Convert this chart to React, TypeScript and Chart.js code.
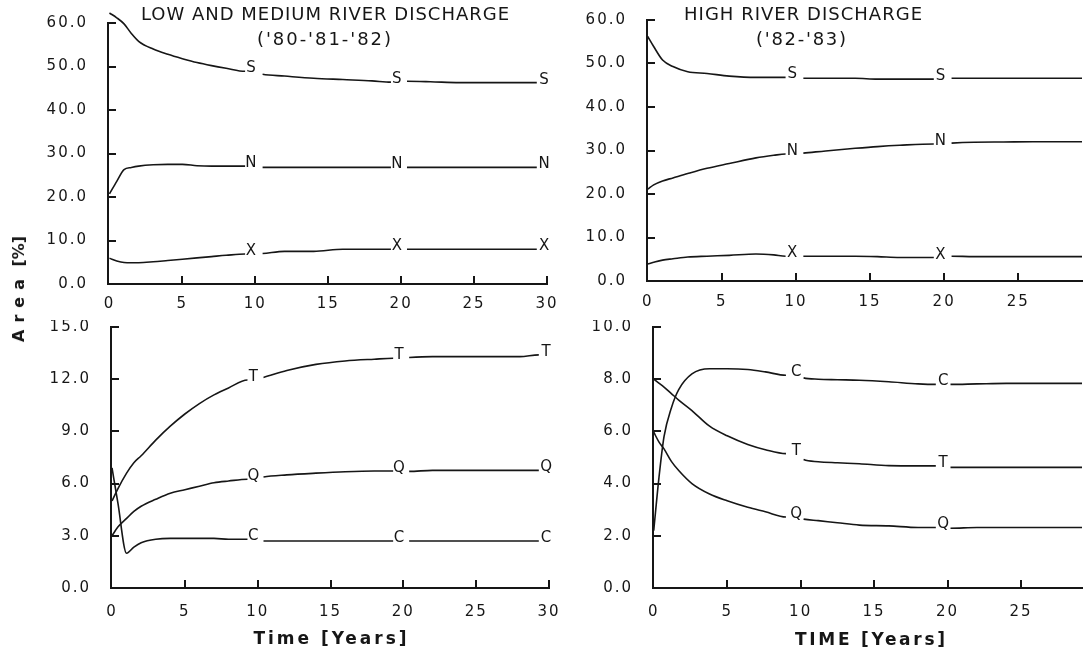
import React, { useEffect, useRef } from "react";
import { Chart, registerables } from "chart.js";

Chart.register(...registerables);

// ---------------- DATA ----------------
// Top-left: low and medium river discharge ('80-'81-'82), area [%] of S, N, X
const tlTitle = ["LOW AND MEDIUM RIVER DISCHARGE", "('80-'81-'82)"];
const tlTime = [0, 0.5, 1, 1.5, 2, 3, 4, 5, 6, 7, 8, 9.3, 9.7, 10.5, 12, 14, 16, 18, 19.3, 19.7, 20.4, 22, 24, 26, 28, 29.3, 29.8];
const tlS = [62.3, 61.2, 59.8, 57.6, 55.8, 54.0, 52.8, 51.8, 50.9, 50.2, 49.6, 48.9, 48.9, 48.2, 47.8, 47.3, 47.0, 46.7, 46.4, 46.4, 46.6, 46.5, 46.3, 46.3, 46.3, 46.3, 46.3];
const tlN = [20.7, 23.6, 26.3, 26.8, 27.1, 27.4, 27.5, 27.5, 27.2, 27.1, 27.1, 27.1, 27.1, 26.8, 26.8, 26.8, 26.8, 26.8, 26.8, 26.8, 26.8, 26.8, 26.8, 26.8, 26.8, 26.8, 26.8];
const tlX = [5.9, 5.3, 4.95, 4.9, 4.9, 5.1, 5.4, 5.7, 6.0, 6.3, 6.6, 6.9, 6.9, 7.0, 7.5, 7.5, 8.0, 8.0, 8.0, 8.0, 8.0, 8.0, 8.0, 8.0, 8.0, 8.0, 8.0];
const tlLetters = ["S", "N", "X"];
const tlLabelTimes = [9.7, 19.7, 29.8];

// Top-right: high river discharge ('82-'83)
const trTitle = ["HIGH RIVER DISCHARGE", "('82-'83)"];
const trTime = [0, 0.4, 1, 1.7, 2.7, 4, 5.5, 7.3, 8.5, 9.3, 9.75, 10.5, 12, 14, 15.5, 17, 19.3, 19.75, 20.5, 22, 24, 26, 28, 29.3];
const trS = [56.2, 53.9, 50.8, 49.3, 48.1, 47.7, 47.1, 46.8, 46.8, 46.8, 46.8, 46.6, 46.6, 46.6, 46.4, 46.4, 46.4, 46.4, 46.6, 46.6, 46.6, 46.6, 46.6, 46.6];
const trN = [21.1, 22.1, 23.0, 23.7, 24.7, 25.9, 27.0, 28.3, 28.9, 29.2, 29.2, 29.4, 29.9, 30.5, 30.9, 31.2, 31.5, 31.5, 31.7, 31.9, 31.95, 32.0, 32.0, 32.0];
const trX = [3.9, 4.3, 4.8, 5.1, 5.5, 5.7, 5.9, 6.2, 6.0, 5.7, 5.7, 5.7, 5.7, 5.7, 5.6, 5.4, 5.4, 5.4, 5.7, 5.6, 5.6, 5.6, 5.6, 5.6];
const trLetters = ["S", "N", "X"];
const trLabelTimes = [9.75, 19.75];

// Bottom-left: T, Q, C
const blTime = [0, 0.4, 1, 1.5, 2, 3, 4, 5, 6, 7, 8, 9.3, 9.7, 10.4, 12, 14, 16, 18, 19.3, 19.7, 20.4, 22, 24, 26, 28, 29.3, 29.8];
const blT = [5.0, 5.7, 6.6, 7.2, 7.6, 8.5, 9.3, 10.0, 10.6, 11.1, 11.5, 11.95, 11.95, 12.1, 12.5, 12.85, 13.05, 13.15, 13.2, 13.2, 13.25, 13.3, 13.3, 13.3, 13.3, 13.4, 13.4];
const blQ = [3.0, 3.5, 4.0, 4.4, 4.7, 5.1, 5.45, 5.65, 5.85, 6.05, 6.15, 6.25, 6.25, 6.38, 6.5, 6.6, 6.68, 6.72, 6.72, 6.72, 6.7, 6.76, 6.76, 6.76, 6.76, 6.76, 6.76];
const blC = [6.9, 4.9, 2.0, 2.35, 2.6, 2.8, 2.85, 2.85, 2.85, 2.85, 2.8, 2.8, 2.8, 2.7, 2.7, 2.7, 2.7, 2.7, 2.7, 2.7, 2.7, 2.7, 2.7, 2.7, 2.7, 2.7, 2.7];
const blLetters = ["T", "Q", "C"];
const blLabelTimes = [9.7, 19.7, 29.8];

// Bottom-right: C, T, Q
const brTime = [0, 0.35, 0.7, 1.2, 1.7, 2.6, 3.8, 5, 6.4, 7.6, 9.0, 9.7, 10.2, 11.2, 12.5, 14, 16, 18, 19.2, 19.7, 20.2, 22, 24, 26, 28, 29.15];
const brC = [2.2, 4.2, 5.8, 6.9, 7.6, 8.2, 8.4, 8.4, 8.37, 8.28, 8.15, 8.15, 8.05, 8.0, 7.98, 7.96, 7.9, 7.82, 7.8, 7.8, 7.8, 7.82, 7.84, 7.84, 7.84, 7.84];
const brT = [8.0, 7.85, 7.7, 7.45, 7.2, 6.8, 6.2, 5.83, 5.5, 5.3, 5.15, 5.15, 4.92, 4.84, 4.8, 4.76, 4.69, 4.68, 4.68, 4.68, 4.62, 4.62, 4.62, 4.62, 4.62, 4.62];
const brQ = [5.97, 5.6, 5.33, 4.85, 4.5, 4.0, 3.6, 3.34, 3.09, 2.92, 2.72, 2.72, 2.64, 2.58, 2.5, 2.41, 2.38, 2.32, 2.32, 2.32, 2.29, 2.32, 2.32, 2.32, 2.32, 2.32];
const brLetters = ["C", "T", "Q"];
const brLabelTimes = [9.7, 19.7];

// Tick values
const xTicksLeft = [0, 5, 10, 15, 20, 25, 30];
const xTicksRight = [0, 5, 10, 15, 20, 25];
const yTicksTop = [0, 10, 20, 30, 40, 50, 60];
const yTicksBL = [0, 3, 6, 9, 12, 15];
const yTicksBR = [0, 2, 4, 6, 8, 10];

// Axis titles
const xTitleLeft = "Time [Years]";
const xTitleRight = "TIME [Years]";
const yTitleWord = "Area";
const yTitleUnit = "[%]";

// ---------------- STYLE / LAYOUT ----------------
const INK = "#161616";
const FONT = "'DejaVu Sans', 'Noto Sans', sans-serif";
const TICK_LEN = 8;
const TICK_W = 2;

Chart.defaults.font.family = FONT;
Chart.defaults.font.size = 15;
Chart.defaults.color = INK;

type TextItem = { text: string; cx: number; cy: number; size: number; bold?: boolean; width: number };
type Panel = {
  time: number[];
  series: number[][];
  letters: string[];
  labelTimes: number[];
  xMin: number;
  xMax: number;
  xTicks: number[];
  yMin: number;
  yMax: number;
  yTicks: number[];
  box: { left: number; top: number; width: number; height: number };
  yAxisWidth: number;
  xAxisHeight: number;
  padTop: number;
  padRight: number;
  xLabelPad: number;
  texts: TextItem[];
};

const panels: Panel[] = [
  {
    time: tlTime, series: [tlS, tlN, tlX], letters: tlLetters, labelTimes: tlLabelTimes,
    xMin: -0.1, xMax: 30, xTicks: xTicksLeft, yMin: 0, yMax: 60, yTicks: yTicksTop,
    box: { left: 0, top: 0, width: 560, height: 320 },
    yAxisWidth: 108, xAxisHeight: 36, padTop: 23, padRight: 13, xLabelPad: 11,
    texts: [
      { text: tlTitle[0], cx: 325, cy: 15, size: 18, width: 368 },
      { text: tlTitle[1], cx: 324, cy: 40, size: 18, width: 134 },
    ],
  },
  {
    time: trTime, series: [trS, trN, trX], letters: trLetters, labelTimes: trLabelTimes,
    xMin: -0.05, xMax: 29.3, xTicks: xTicksRight, yMin: 0, yMax: 60, yTicks: yTicksTop,
    box: { left: 560, top: 0, width: 527, height: 320 },
    yAxisWidth: 87, xAxisHeight: 39, padTop: 20, padRight: 5, xLabelPad: 12,
    texts: [
      { text: trTitle[0], cx: 243, cy: 15, size: 18, width: 238 },
      { text: trTitle[1], cx: 241, cy: 40, size: 18, width: 90 },
    ],
  },
  {
    time: blTime, series: [blT, blQ, blC], letters: blLetters, labelTimes: blLabelTimes,
    xMin: -0.07, xMax: 30, xTicks: xTicksLeft, yMin: 0, yMax: 15, yTicks: yTicksBL,
    box: { left: 0, top: 320, width: 560, height: 338 },
    yAxisWidth: 111, xAxisHeight: 70, padTop: 7, padRight: 11, xLabelPad: 15,
    texts: [{ text: xTitleLeft, cx: 330, cy: 320, size: 17, bold: true, width: 153 }],
  },
  {
    time: brTime, series: [brC, brT, brQ], letters: brLetters, labelTimes: brLabelTimes,
    xMin: -0.05, xMax: 29.15, xTicks: xTicksRight, yMin: 0, yMax: 10, yTicks: yTicksBR,
    box: { left: 560, top: 320, width: 527, height: 338 },
    yAxisWidth: 93, xAxisHeight: 70, padTop: 7, padRight: 5, xLabelPad: 15,
    texts: [{ text: xTitleRight, cx: 310, cy: 321, size: 17, bold: true, width: 150 }],
  },
];

function buildConfig(p: Panel): any {
  const isLabel = (x: number) => p.labelTimes.includes(x);
  const datasets = p.series.map((vals, i) => ({
    label: p.letters[i],
    data: p.time.map((t, j) => ({ x: t, y: vals[j] })),
    borderColor: INK,
    borderWidth: 1.6,
    pointRadius: 0,
    fill: false,
    clip: false,
    cubicInterpolationMode: "monotone",
    segment: {
      borderColor: (ctx: any) =>
        isLabel(ctx.p0.parsed.x) || isLabel(ctx.p1.parsed.x) ? "rgba(0,0,0,0)" : INK,
    },
  }));

  const spacingPlugin = {
    id: "spacing",
    beforeDraw(chart: any) {
      chart.ctx.letterSpacing = "2px";
    },
  };

  const decoPlugin = {
    id: "deco",
    afterDraw(chart: any) {
      const ctx = chart.ctx as CanvasRenderingContext2D;
      const xs = chart.scales.x;
      const ys = chart.scales.y;
      const bottom = ys.getPixelForValue(p.yMin);
      const left = xs.getPixelForValue(p.xMin);

      // inward tick marks (filled rects)
      ctx.save();
      ctx.fillStyle = INK;
      for (const v of p.xTicks) {
        if (v === 0) continue;
        const px = Math.round(xs.getPixelForValue(v));
        ctx.fillRect(px - TICK_W / 2, bottom - TICK_LEN, TICK_W, TICK_LEN);
      }
      for (const v of p.yTicks) {
        if (v === 0) continue;
        const py = Math.round(ys.getPixelForValue(v));
        ctx.fillRect(left, py - TICK_W / 2, TICK_LEN, TICK_W);
      }
      ctx.restore();

      // curve letters
      ctx.save();
      (ctx as any).letterSpacing = "0px";
      ctx.fillStyle = INK;
      ctx.font = `15px ${FONT}`;
      ctx.textAlign = "center";
      ctx.textBaseline = "alphabetic";
      p.series.forEach((vals, i) => {
        p.labelTimes.forEach((t) => {
          const idx = p.time.indexOf(t);
          if (idx < 0) return;
          const px = xs.getPixelForValue(t);
          const py = ys.getPixelForValue(vals[idx]);
          ctx.fillText(p.letters[i], px, py + 1);
        });
      });
      ctx.restore();

      // titles
      p.texts.forEach((it) => {
        ctx.save();
        ctx.fillStyle = INK;
        ctx.font = `${it.bold ? "bold " : ""}${it.size}px ${FONT}`;
        (ctx as any).letterSpacing = "0px";
        const w0 = ctx.measureText(it.text).width;
        const n = Array.from(it.text).length;
        const sp = n > 1 ? (it.width - w0) / (n - 1) : 0;
        (ctx as any).letterSpacing = `${sp}px`;
        ctx.textAlign = "left";
        ctx.textBaseline = "middle";
        ctx.fillText(it.text, it.cx - it.width / 2, it.cy);
        ctx.restore();
      });
    },
  };

  const noGrid = { display: false, drawTicks: false, tickLength: 0 };

  return {
    type: "line",
    data: { datasets },
    options: {
      responsive: false,
      maintainAspectRatio: false,
      animation: false,
      devicePixelRatio: 1,
      events: [],
      layout: { padding: { top: p.padTop, right: p.padRight, left: 0, bottom: 0 } },
      plugins: {
        legend: { display: false },
        tooltip: { enabled: false },
        title: { display: false },
      },
      scales: {
        x: {
          type: "linear",
          min: p.xMin,
          max: p.xMax,
          grid: noGrid,
          border: { display: true, color: INK, width: 2 },
          ticks: {
            padding: p.xLabelPad,
            autoSkip: false,
            maxRotation: 0,
            color: INK,
            font: { size: 15, family: FONT },
            callback: (v: any) => String(v),
          },
          afterBuildTicks: (s: any) => {
            s.ticks = p.xTicks.map((v) => ({ value: v }));
          },
          afterFit: (s: any) => {
            s.height = p.xAxisHeight;
            s.paddingLeft = 0;
            s.paddingRight = 0;
          },
        },
        y: {
          type: "linear",
          min: p.yMin,
          max: p.yMax,
          grid: noGrid,
          border: { display: true, color: INK, width: 2 },
          ticks: {
            padding: 20,
            color: INK,
            font: { size: 15, family: FONT },
            callback: (v: any) => Number(v).toFixed(1),
          },
          afterBuildTicks: (s: any) => {
            s.ticks = p.yTicks.map((v) => ({ value: v }));
          },
          afterFit: (s: any) => {
            s.width = p.yAxisWidth;
            s.paddingTop = 0;
            s.paddingBottom = 0;
          },
        },
      },
    },
    plugins: [spacingPlugin, decoPlugin],
  };
}

function PanelChart({ p }: { p: Panel }) {
  const ref = useRef<HTMLCanvasElement>(null);
  useEffect(() => {
    if (!ref.current) return;
    const chart = new Chart(ref.current, buildConfig(p));
    return () => chart.destroy();
  }, [p]);
  return (
    <canvas
      ref={ref}
      width={p.box.width}
      height={p.box.height}
      style={{
        position: "absolute",
        left: p.box.left,
        top: p.box.top,
        width: p.box.width,
        height: p.box.height,
        display: "block",
      }}
    />
  );
}

export default function App() {
  return (
    <div
      style={{
        position: "absolute",
        left: 0,
        top: 0,
        width: 1087,
        height: 658,
        background: "#ffffff",
        overflow: "hidden",
      }}
    >
      {panels.map((p, i) => (
        <PanelChart key={i} p={p} />
      ))}
      <div
        style={{
          position: "absolute",
          left: 19,
          top: 289,
          transform: "translate(-50%, -50%) rotate(-90deg)",
          whiteSpace: "nowrap",
          fontFamily: FONT,
          fontWeight: "bold",
          fontSize: 16,
          color: INK,
          lineHeight: 1,
        }}
      >
        <span style={{ letterSpacing: 7 }}>{yTitleWord}</span> {yTitleUnit}
      </div>
    </div>
  );
}
